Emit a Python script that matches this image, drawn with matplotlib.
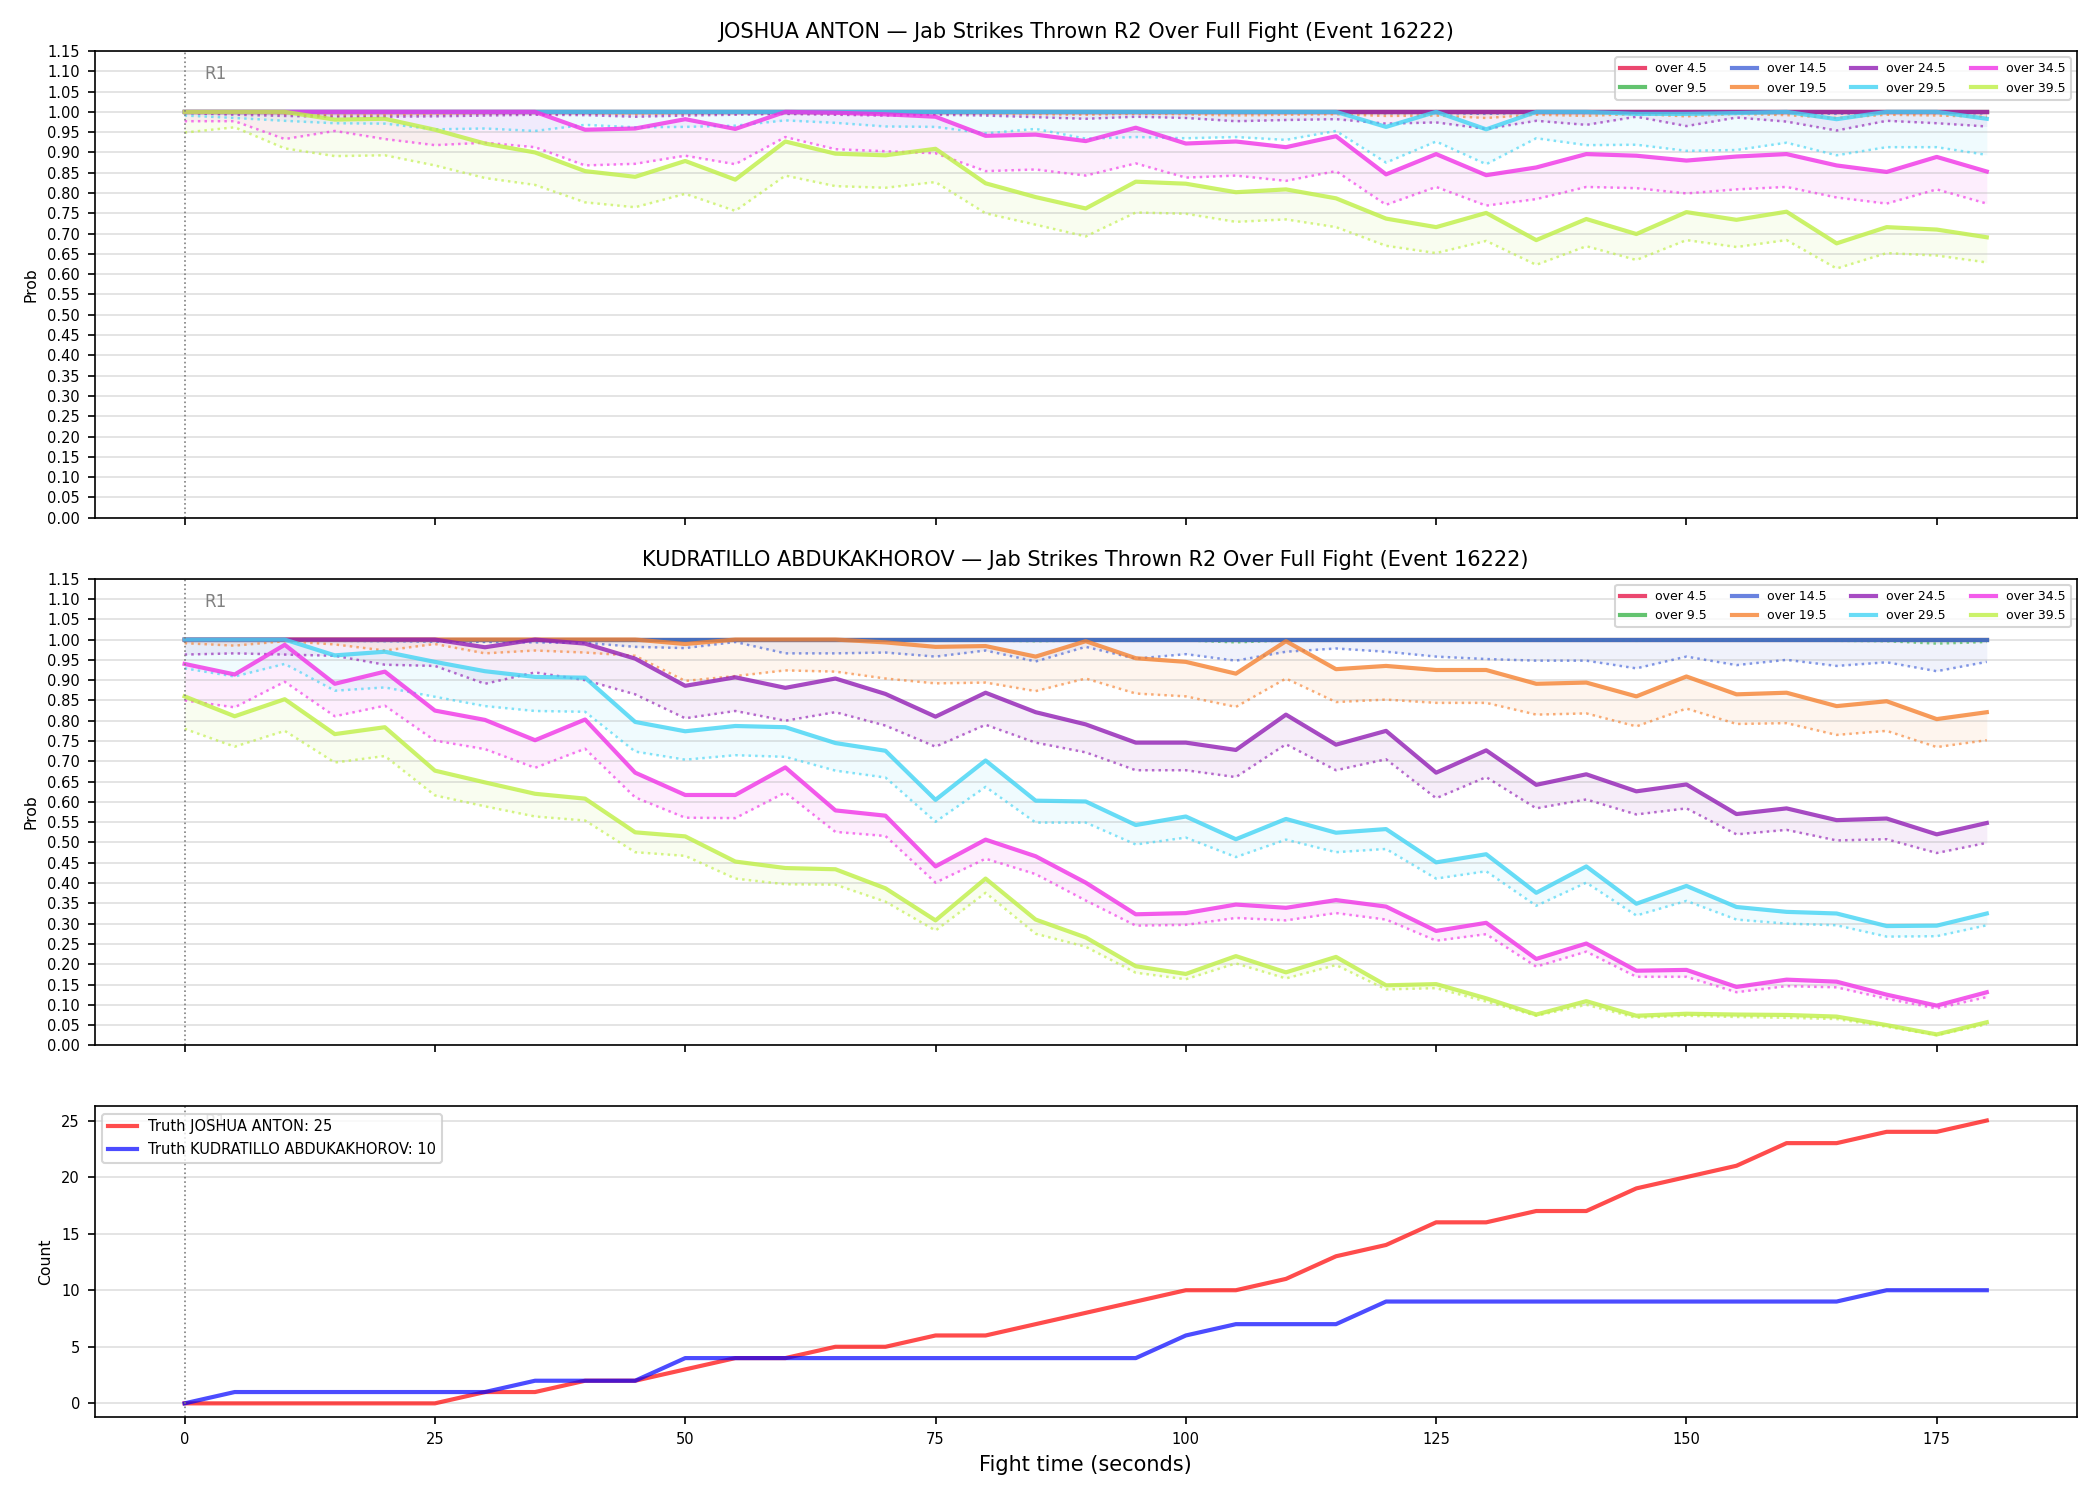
import matplotlib
matplotlib.use("Agg")
import matplotlib.pyplot as plt

# fight time in seconds
times = list(range(0, 181, 5))

labels = ["over 4.5", "over 9.5", "over 14.5", "over 19.5",
          "over 24.5", "over 29.5", "over 34.5", "over 39.5"]
colors = ["#e6194b", "#3cb44b", "#4363d8", "#f58231",
          "#911eb4", "#42d4f4", "#f032e6", "#bfef45"]

# JOSHUA ANTON: upper (solid) and lower (dotted) probabilities per line
ja_45_hi = [1.0, 1.0, 1.0, 1.0, 1.0, 1.0, 1.0, 1.0, 1.0, 1.0, 1.0, 1.0, 1.0, 1.0, 1.0, 1.0, 1.0, 1.0,
            1.0, 1.0, 1.0, 1.0, 1.0, 1.0, 1.0, 1.0, 1.0, 1.0, 1.0, 1.0, 1.0, 1.0, 1.0, 1.0, 1.0, 1.0, 1.0]
ja_45_lo = [1.0, 1.0, 1.0, 1.0, 1.0, 1.0, 1.0, 1.0, 1.0, 1.0, 1.0, 1.0, 1.0, 1.0, 1.0, 1.0, 1.0, 1.0,
            1.0, 1.0, 1.0, 1.0, 1.0, 1.0, 1.0, 1.0, 0.999, 1.0, 1.0, 1.0, 1.0, 1.0, 1.0, 0.999, 1.0, 1.0, 1.0]
ja_95_hi = [1.0, 1.0, 1.0, 1.0, 1.0, 1.0, 1.0, 1.0, 1.0, 1.0, 1.0, 1.0, 1.0, 1.0, 1.0, 1.0, 1.0, 1.0,
            1.0, 1.0, 1.0, 1.0, 1.0, 1.0, 1.0, 1.0, 1.0, 1.0, 1.0, 1.0, 1.0, 1.0, 1.0, 1.0, 1.0, 1.0, 1.0]
ja_95_lo = [1.0, 1.0, 0.999, 0.999, 1.0, 0.999, 1.0, 1.0, 0.999, 0.999, 1.0, 1.0, 1.0, 1.0, 0.999, 1.0, 0.999, 0.999,
            0.999, 1.0, 0.999, 0.999, 0.999, 1.0, 0.998, 0.999, 0.998, 1.0, 0.999, 1.0, 0.999, 1.0, 0.999, 0.998, 1.0, 0.999, 0.999]
ja_145_hi = [1.0, 1.0, 1.0, 1.0, 1.0, 1.0, 1.0, 1.0, 1.0, 1.0, 1.0, 1.0, 1.0, 1.0, 1.0, 1.0, 1.0, 1.0,
             1.0, 1.0, 1.0, 1.0, 1.0, 1.0, 1.0, 1.0, 1.0, 1.0, 1.0, 1.0, 1.0, 1.0, 1.0, 1.0, 1.0, 1.0, 1.0]
ja_145_lo = [0.999, 0.999, 0.998, 0.997, 0.998, 0.998, 0.999, 0.999, 0.998, 0.998, 0.999, 0.999, 1.0, 0.999, 0.998, 0.999, 0.998, 0.998,
             0.997, 0.998, 0.998, 0.997, 0.998, 0.998, 0.996, 0.997, 0.995, 0.998, 0.997, 0.999, 0.997, 0.998, 0.997, 0.995, 0.998, 0.997, 0.996]
ja_195_hi = [1.0, 1.0, 1.0, 1.0, 1.0, 1.0, 1.0, 1.0, 1.0, 1.0, 1.0, 1.0, 1.0, 1.0, 1.0, 1.0, 1.0, 1.0,
             1.0, 1.0, 1.0, 1.0, 1.0, 1.0, 1.0, 1.0, 1.0, 1.0, 1.0, 1.0, 1.0, 1.0, 1.0, 1.0, 1.0, 1.0, 1.0]
ja_195_lo = [0.999, 0.998, 0.995, 0.991, 0.992, 0.994, 0.996, 0.997, 0.996, 0.994, 0.996, 0.997, 0.998, 0.997, 0.996, 0.997, 0.996, 0.994,
             0.993, 0.995, 0.994, 0.991, 0.993, 0.994, 0.990, 0.991, 0.985, 0.993, 0.990, 0.995, 0.989, 0.995, 0.992, 0.985, 0.993, 0.991, 0.988]
ja_245_hi = [1.0, 1.0, 1.0, 1.0, 1.0, 1.0, 1.0, 1.0, 1.0, 1.0, 1.0, 1.0, 1.0, 1.0, 1.0, 1.0, 1.0, 1.0,
             1.0, 1.0, 1.0, 1.0, 1.0, 1.0, 1.0, 1.0, 1.0, 1.0, 1.0, 1.0, 1.0, 1.0, 1.0, 1.0, 1.0, 1.0, 1.0]
ja_245_lo = [0.997, 0.993, 0.990, 0.988, 0.988, 0.989, 0.991, 0.993, 0.992, 0.988, 0.991, 0.993, 0.995, 0.993, 0.991, 0.993, 0.991, 0.987,
             0.983, 0.988, 0.985, 0.977, 0.980, 0.982, 0.971, 0.974, 0.958, 0.978, 0.968, 0.988, 0.965, 0.986, 0.976, 0.954, 0.978, 0.972, 0.964]
ja_295_hi = [1.0, 1.0, 1.0, 1.0, 1.0, 1.0, 1.0, 1.0, 1.0, 1.0, 1.0, 1.0, 1.0, 1.0, 1.0, 1.0, 1.0, 1.0,
             1.0, 1.0, 1.0, 1.0, 1.0, 1.0, 0.963, 1.0, 0.957, 1.0, 1.0, 0.995, 0.995, 0.997, 1.0, 0.982, 1.0, 1.0, 0.983]
ja_295_lo = [0.991, 0.985, 0.978, 0.972, 0.971, 0.957, 0.959, 0.953, 0.968, 0.962, 0.963, 0.966, 0.979, 0.973, 0.964, 0.963, 0.947, 0.958,
             0.934, 0.938, 0.935, 0.938, 0.931, 0.953, 0.875, 0.927, 0.871, 0.935, 0.918, 0.919, 0.904, 0.906, 0.924, 0.893, 0.913, 0.913, 0.894]
ja_345_hi = [1.0, 1.0, 1.0, 1.0, 1.0, 1.0, 1.0, 1.0, 0.956, 0.959, 0.982, 0.958, 1.0, 0.998, 0.994, 0.988, 0.941, 0.944,
             0.928, 0.961, 0.922, 0.927, 0.913, 0.940, 0.846, 0.896, 0.844, 0.863, 0.896, 0.892, 0.880, 0.890, 0.896, 0.868, 0.852, 0.889, 0.853]
ja_345_lo = [0.977, 0.977, 0.933, 0.953, 0.933, 0.918, 0.924, 0.913, 0.868, 0.872, 0.892, 0.871, 0.938, 0.908, 0.903, 0.898, 0.854, 0.858,
             0.843, 0.873, 0.838, 0.843, 0.830, 0.854, 0.771, 0.815, 0.769, 0.785, 0.815, 0.812, 0.799, 0.809, 0.815, 0.789, 0.774, 0.809, 0.774]
ja_395_hi = [1.0, 1.0, 1.0, 0.981, 0.983, 0.956, 0.922, 0.900, 0.854, 0.840, 0.879, 0.833, 0.927, 0.897, 0.893, 0.909, 0.824, 0.790,
             0.762, 0.828, 0.823, 0.802, 0.809, 0.787, 0.737, 0.716, 0.751, 0.684, 0.736, 0.699, 0.753, 0.734, 0.754, 0.676, 0.716, 0.710, 0.691]
ja_395_lo = [0.949, 0.962, 0.910, 0.891, 0.893, 0.868, 0.837, 0.820, 0.777, 0.765, 0.798, 0.756, 0.843, 0.817, 0.813, 0.827, 0.750, 0.722,
             0.693, 0.752, 0.749, 0.729, 0.735, 0.716, 0.670, 0.652, 0.682, 0.623, 0.669, 0.635, 0.684, 0.667, 0.684, 0.614, 0.652, 0.646, 0.629]

# KUDRATILLO ABDUKAKHOROV
ka_45_hi = [1.0, 1.0, 1.0, 1.0, 1.0, 1.0, 1.0, 1.0, 1.0, 1.0, 1.0, 1.0, 1.0, 1.0, 1.0, 1.0, 1.0, 1.0,
            1.0, 1.0, 1.0, 1.0, 1.0, 1.0, 1.0, 1.0, 1.0, 1.0, 1.0, 1.0, 1.0, 1.0, 1.0, 1.0, 1.0, 1.0, 1.0]
ka_45_lo = [1.0, 1.0, 1.0, 1.0, 1.0, 1.0, 1.0, 1.0, 1.0, 1.0, 1.0, 1.0, 1.0, 1.0, 1.0, 1.0, 1.0, 1.0,
            1.0, 1.0, 1.0, 0.999, 1.0, 1.0, 1.0, 1.0, 1.0, 1.0, 1.0, 1.0, 1.0, 1.0, 1.0, 1.0, 1.0, 0.999, 1.0]
ka_95_hi = [1.0, 1.0, 1.0, 1.0, 1.0, 1.0, 1.0, 1.0, 1.0, 1.0, 1.0, 1.0, 1.0, 1.0, 1.0, 1.0, 1.0, 1.0,
            1.0, 1.0, 1.0, 1.0, 1.0, 1.0, 1.0, 1.0, 1.0, 1.0, 1.0, 1.0, 1.0, 1.0, 1.0, 1.0, 1.0, 1.0, 1.0]
ka_95_lo = [1.0, 0.999, 1.0, 0.999, 0.998, 0.996, 0.996, 0.997, 0.997, 0.997, 0.997, 0.999, 0.998, 0.998, 0.998, 0.997, 0.998, 0.996,
            0.998, 0.997, 0.998, 0.993, 0.998, 0.999, 0.998, 0.998, 0.998, 0.998, 0.998, 0.997, 0.998, 0.998, 0.998, 0.997, 0.996, 0.990, 0.994]
ka_145_hi = [1.0, 1.0, 1.0, 1.0, 1.0, 1.0, 1.0, 1.0, 1.0, 1.0, 1.0, 1.0, 1.0, 1.0, 1.0, 1.0, 1.0, 1.0,
             1.0, 1.0, 1.0, 1.0, 1.0, 1.0, 1.0, 1.0, 1.0, 1.0, 1.0, 1.0, 1.0, 1.0, 1.0, 1.0, 1.0, 1.0, 1.0]
ka_145_lo = [0.998, 0.998, 0.999, 0.997, 0.996, 0.995, 0.994, 0.993, 0.992, 0.982, 0.979, 0.994, 0.966, 0.966, 0.968, 0.958, 0.973, 0.946,
             0.982, 0.953, 0.964, 0.948, 0.970, 0.978, 0.970, 0.958, 0.952, 0.948, 0.948, 0.929, 0.958, 0.937, 0.950, 0.935, 0.944, 0.922, 0.945]
ka_195_hi = [1.0, 1.0, 1.0, 1.0, 1.0, 1.0, 1.0, 1.0, 1.0, 1.0, 0.989, 1.0, 1.0, 1.0, 0.993, 0.982, 0.984, 0.958,
             0.996, 0.954, 0.945, 0.916, 0.996, 0.927, 0.935, 0.925, 0.925, 0.891, 0.894, 0.860, 0.909, 0.865, 0.869, 0.836, 0.848, 0.804, 0.821]
ka_195_lo = [0.991, 0.985, 0.996, 0.988, 0.973, 0.989, 0.966, 0.973, 0.968, 0.960, 0.898, 0.910, 0.924, 0.921, 0.904, 0.892, 0.894, 0.873,
             0.904, 0.867, 0.860, 0.834, 0.904, 0.846, 0.852, 0.844, 0.844, 0.815, 0.818, 0.786, 0.830, 0.792, 0.794, 0.765, 0.775, 0.735, 0.752]
ka_245_hi = [1.0, 1.0, 1.0, 1.0, 1.0, 1.0, 0.981, 1.0, 0.990, 0.953, 0.886, 0.907, 0.881, 0.904, 0.866, 0.810, 0.869, 0.821,
             0.791, 0.746, 0.746, 0.728, 0.815, 0.741, 0.775, 0.672, 0.727, 0.642, 0.668, 0.626, 0.643, 0.570, 0.584, 0.555, 0.559, 0.520, 0.548]
ka_245_lo = [0.963, 0.966, 0.963, 0.960, 0.938, 0.935, 0.891, 0.919, 0.900, 0.865, 0.806, 0.824, 0.800, 0.821, 0.788, 0.736, 0.790, 0.746,
             0.722, 0.678, 0.678, 0.661, 0.742, 0.678, 0.705, 0.609, 0.661, 0.584, 0.606, 0.569, 0.584, 0.520, 0.531, 0.505, 0.508, 0.474, 0.499]
ka_295_hi = [1.0, 1.0, 1.0, 0.961, 0.970, 0.945, 0.922, 0.908, 0.906, 0.797, 0.774, 0.787, 0.784, 0.745, 0.726, 0.605, 0.702, 0.603,
             0.601, 0.543, 0.564, 0.508, 0.558, 0.524, 0.533, 0.451, 0.471, 0.376, 0.441, 0.349, 0.393, 0.341, 0.329, 0.325, 0.294, 0.295, 0.325]
ka_295_lo = [0.929, 0.909, 0.940, 0.874, 0.882, 0.859, 0.836, 0.824, 0.822, 0.724, 0.704, 0.715, 0.711, 0.677, 0.660, 0.551, 0.637, 0.549,
             0.549, 0.495, 0.512, 0.464, 0.507, 0.476, 0.484, 0.411, 0.429, 0.344, 0.401, 0.320, 0.356, 0.310, 0.300, 0.296, 0.268, 0.269, 0.296]
ka_345_hi = [0.940, 0.914, 0.987, 0.891, 0.921, 0.825, 0.802, 0.752, 0.803, 0.672, 0.617, 0.617, 0.685, 0.579, 0.566, 0.441, 0.507, 0.466,
             0.401, 0.323, 0.326, 0.347, 0.339, 0.358, 0.342, 0.282, 0.302, 0.213, 0.251, 0.184, 0.186, 0.144, 0.162, 0.157, 0.125, 0.098, 0.131]
ka_345_lo = [0.850, 0.833, 0.896, 0.811, 0.837, 0.751, 0.730, 0.684, 0.731, 0.611, 0.561, 0.560, 0.623, 0.526, 0.516, 0.401, 0.460, 0.422,
             0.357, 0.295, 0.297, 0.314, 0.308, 0.326, 0.310, 0.258, 0.274, 0.194, 0.231, 0.169, 0.169, 0.131, 0.146, 0.143, 0.115, 0.091, 0.119]
ka_395_hi = [0.860, 0.811, 0.853, 0.767, 0.784, 0.677, 0.648, 0.620, 0.608, 0.525, 0.515, 0.453, 0.437, 0.434, 0.387, 0.308, 0.411, 0.310,
             0.266, 0.195, 0.176, 0.220, 0.180, 0.218, 0.148, 0.151, 0.116, 0.076, 0.109, 0.073, 0.078, 0.076, 0.075, 0.071, 0.050, 0.027, 0.057]
ka_395_lo = [0.780, 0.736, 0.775, 0.697, 0.713, 0.616, 0.589, 0.564, 0.554, 0.476, 0.467, 0.411, 0.397, 0.396, 0.354, 0.283, 0.376, 0.275,
             0.243, 0.179, 0.163, 0.202, 0.165, 0.198, 0.138, 0.141, 0.108, 0.073, 0.100, 0.068, 0.073, 0.070, 0.068, 0.065, 0.046, 0.025, 0.052]

# cumulative true jab counts
truth_anton = [0, 0, 0, 0, 0, 0, 1, 1, 2, 2, 3, 4, 4, 5, 5, 6, 6, 7, 8, 9, 10, 10, 11, 13, 14,
               16, 16, 17, 17, 19, 20, 21, 23, 23, 24, 24, 25]
truth_kudr = [0, 1, 1, 1, 1, 1, 1, 2, 2, 2, 4, 4, 4, 4, 4, 4, 4, 4, 4, 4, 6, 7, 7, 7, 9,
              9, 9, 9, 9, 9, 9, 9, 9, 9, 10, 10, 10]

panels = [
    ("JOSHUA ANTON",
     [ja_45_hi, ja_95_hi, ja_145_hi, ja_195_hi, ja_245_hi, ja_295_hi, ja_345_hi, ja_395_hi],
     [ja_45_lo, ja_95_lo, ja_145_lo, ja_195_lo, ja_245_lo, ja_295_lo, ja_345_lo, ja_395_lo]),
    ("KUDRATILLO ABDUKAKHOROV",
     [ka_45_hi, ka_95_hi, ka_145_hi, ka_195_hi, ka_245_hi, ka_295_hi, ka_345_hi, ka_395_hi],
     [ka_45_lo, ka_95_lo, ka_145_lo, ka_195_lo, ka_245_lo, ka_295_lo, ka_345_lo, ka_395_lo]),
]

fig, axes = plt.subplots(3, 1, figsize=(14, 10), dpi=150, sharex=True,
                         gridspec_kw={"height_ratios": [3, 3, 2]})
fig.subplots_adjust(left=0.045, right=0.989, top=0.966, bottom=0.055, hspace=0.147)

yticks = [i * 0.05 for i in range(24)]

for ax, (name, his, los) in zip(axes[:2], panels):
    for lab, col, hi, lo in zip(labels, colors, his, los):
        ax.fill_between(times, lo, hi, color=col, alpha=0.08, lw=0)
        ax.plot(times, lo, color=col, ls=":", lw=1.2, alpha=0.65)
        ax.plot(times, hi, color=col, lw=2, alpha=0.8, label=lab)
    ax.set_ylim(0, 1.15)
    ax.set_yticks(yticks)
    ax.set_ylabel("Prob", fontsize=7.5)
    ax.set_title(name + " \u2014 Jab Strikes Thrown R2 Over Full Fight (Event 16222)", fontsize=10)
    ax.legend(loc="upper right", ncol=4, fontsize=6)

# bottom panel: truth counts
ax3 = axes[2]
ax3.plot(times, truth_anton, color="red", lw=2, alpha=0.7, label="Truth JOSHUA ANTON: 25")
ax3.plot(times, truth_kudr, color="blue", lw=2, alpha=0.7, label="Truth KUDRATILLO ABDUKAKHOROV: 10")
ax3.set_ylabel("Count", fontsize=7.5)
ax3.set_xlabel("Fight time (seconds)", fontsize=10)

for ax in axes:
    ax.axvline(0, color="gray", ls=":", lw=0.8)
    ax.text(2, 0.95, "R1", transform=ax.get_xaxis_transform(), color="gray", fontsize=8, va="center")
    ax.grid(True, axis="y", alpha=0.4)
    ax.tick_params(labelsize=7)

# legend drawn on top of the R1 marker, as in the original
leg = ax3.legend(loc="upper left", fontsize=7)
leg.set_zorder(5)

fig.savefig("out.png", dpi=150)
